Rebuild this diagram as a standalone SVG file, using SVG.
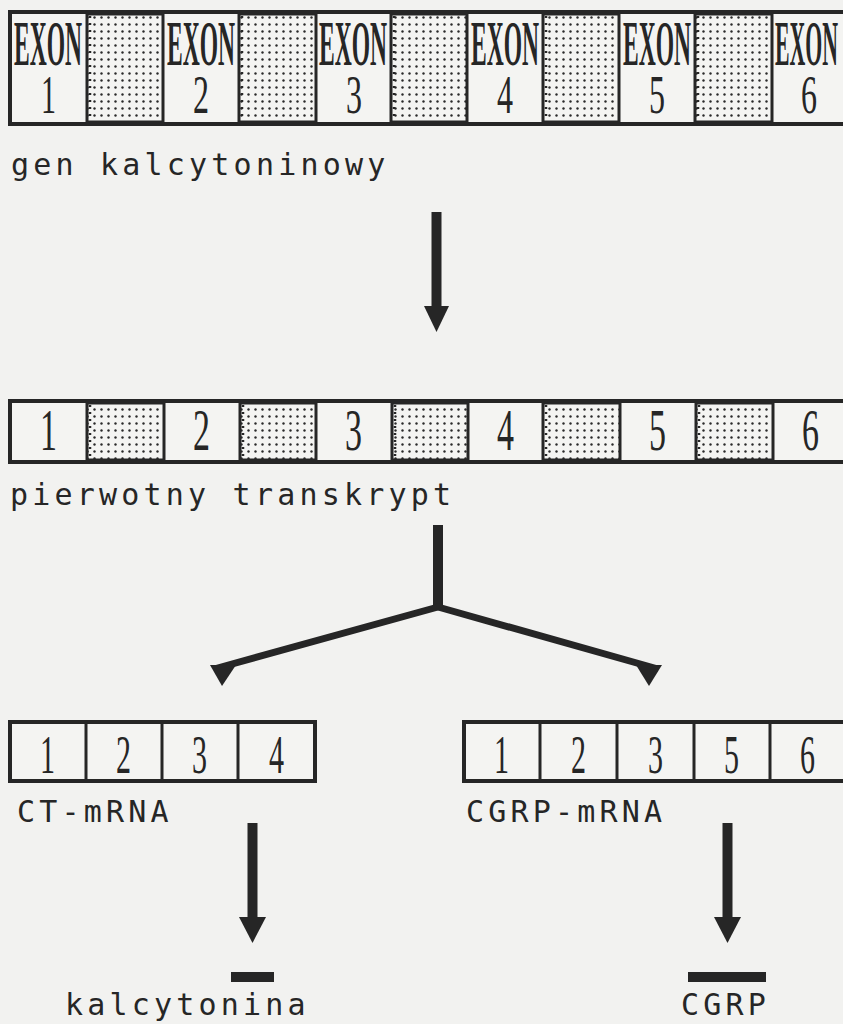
<svg xmlns="http://www.w3.org/2000/svg" width="843" height="1024" viewBox="0 0 843 1024">
<defs>
<pattern id="dots" width="7" height="7" patternUnits="userSpaceOnUse">
<rect width="7" height="7" fill="#f4f4f2"/>
<circle cx="3.5" cy="3.5" r="1.2" fill="#2a2a2a"/>
</pattern>
<style>
.box{fill:#f4f4f2;stroke:#262626;stroke-width:4}
.div{stroke:#262626;stroke-width:3}
.intr{fill:url(#dots);stroke:#262626;stroke-width:3}
.tick{stroke:#262626;stroke-width:2.5;stroke-dasharray:2 5}
.exon{font-family:"Liberation Serif",serif;font-weight:bold;font-size:64px;fill:#262626}
.dig{font-family:"Liberation Serif",serif;font-size:54px;fill:#262626}
.dig2{font-family:"Liberation Serif",serif;font-size:60px;fill:#262626}
.lbl{font-family:"DejaVu Sans Mono",monospace;font-size:30px;letter-spacing:4.2px;fill:#262626}
.shaft{stroke:#262626;stroke-width:10;fill:none}
.branch{stroke:#262626;stroke-width:7;fill:none;stroke-linejoin:round}
.head{fill:#262626}
</style>
</defs>
<rect width="843" height="1024" fill="#f2f2f0"/>

<g id="gene">
<rect class="box" x="10" y="12" width="845" height="112"/>
<rect class="intr" x="87" y="14" width="76" height="108"/>
<rect class="intr" x="239" y="14" width="77" height="108"/>
<rect class="intr" x="391" y="14" width="76" height="108"/>
<rect class="intr" x="543" y="14" width="76" height="108"/>
<rect class="intr" x="695" y="14" width="77" height="108"/>
<line class="tick" x1="90" y1="16" x2="90" y2="120"/>
<line class="tick" x1="242" y1="16" x2="242" y2="120"/>
<line class="tick" x1="394" y1="16" x2="394" y2="120"/>
<line class="tick" x1="546" y1="16" x2="546" y2="120"/>
<line class="tick" x1="698" y1="16" x2="698" y2="120"/>
<text class="exon" x="14" y="65" textLength="68" lengthAdjust="spacingAndGlyphs">EXON</text>
<text class="exon" x="167" y="65" textLength="68" lengthAdjust="spacingAndGlyphs">EXON</text>
<text class="exon" x="319" y="65" textLength="68" lengthAdjust="spacingAndGlyphs">EXON</text>
<text class="exon" x="471" y="65" textLength="68" lengthAdjust="spacingAndGlyphs">EXON</text>
<text class="exon" x="623" y="65" textLength="68" lengthAdjust="spacingAndGlyphs">EXON</text>
<text class="exon" x="775" y="65" textLength="63" lengthAdjust="spacingAndGlyphs">EXON</text>
<text class="dig" x="41" y="113" textLength="15" lengthAdjust="spacingAndGlyphs">1</text>
<text class="dig" x="193" y="113" textLength="16" lengthAdjust="spacingAndGlyphs">2</text>
<text class="dig" x="346" y="113" textLength="16" lengthAdjust="spacingAndGlyphs">3</text>
<text class="dig" x="497" y="113" textLength="16" lengthAdjust="spacingAndGlyphs">4</text>
<text class="dig" x="649" y="113" textLength="16" lengthAdjust="spacingAndGlyphs">5</text>
<text class="dig" x="801" y="113" textLength="16" lengthAdjust="spacingAndGlyphs">6</text>
</g>
<text id="label-gene" class="lbl" x="11" y="175">gen kalcytoninowy</text>

<g id="transcript">
<rect class="box" x="10" y="401" width="845" height="61"/>
<rect class="intr" x="87" y="403" width="77" height="57"/>
<rect class="intr" x="240" y="403" width="76" height="57"/>
<rect class="intr" x="392" y="403" width="76" height="57"/>
<rect class="intr" x="543" y="403" width="77" height="57"/>
<rect class="intr" x="696" y="403" width="77" height="57"/>
<line class="tick" x1="90" y1="405" x2="90" y2="459"/>
<line class="tick" x1="243" y1="405" x2="243" y2="459"/>
<line class="tick" x1="395" y1="405" x2="395" y2="459"/>
<line class="tick" x1="546" y1="405" x2="546" y2="459"/>
<line class="tick" x1="699" y1="405" x2="699" y2="459"/>
<text class="dig2" x="40" y="450" textLength="17" lengthAdjust="spacingAndGlyphs">1</text>
<text class="dig2" x="193" y="450" textLength="17" lengthAdjust="spacingAndGlyphs">2</text>
<text class="dig2" x="345" y="450" textLength="17" lengthAdjust="spacingAndGlyphs">3</text>
<text class="dig2" x="497" y="450" textLength="17" lengthAdjust="spacingAndGlyphs">4</text>
<text class="dig2" x="649" y="450" textLength="17" lengthAdjust="spacingAndGlyphs">5</text>
<text class="dig2" x="802" y="450" textLength="17" lengthAdjust="spacingAndGlyphs">6</text>
</g>
<text id="label-transcript" class="lbl" x="10" y="505">pierwotny transkrypt</text>

<g id="ct-mrna">
<rect class="box" x="10" y="722" width="305" height="59"/>
<line class="div" x1="86" y1="722" x2="86" y2="781"/>
<line class="div" x1="162" y1="722" x2="162" y2="781"/>
<line class="div" x1="238" y1="722" x2="238" y2="781"/>
<text class="dig" x="40" y="773" textLength="15" lengthAdjust="spacingAndGlyphs">1</text>
<text class="dig" x="116" y="773" textLength="15" lengthAdjust="spacingAndGlyphs">2</text>
<text class="dig" x="192" y="773" textLength="15" lengthAdjust="spacingAndGlyphs">3</text>
<text class="dig" x="269" y="773" textLength="15" lengthAdjust="spacingAndGlyphs">4</text>
</g>
<text id="label-ct" class="lbl" x="17" y="822">CT-mRNA</text>

<g id="cgrp-mrna">
<rect class="box" x="464" y="722" width="391" height="59"/>
<line class="div" x1="540" y1="722" x2="540" y2="781"/>
<line class="div" x1="617" y1="722" x2="617" y2="781"/>
<line class="div" x1="694" y1="722" x2="694" y2="781"/>
<line class="div" x1="770" y1="722" x2="770" y2="781"/>
<text class="dig" x="494" y="773" textLength="15" lengthAdjust="spacingAndGlyphs">1</text>
<text class="dig" x="571" y="773" textLength="15" lengthAdjust="spacingAndGlyphs">2</text>
<text class="dig" x="648" y="773" textLength="15" lengthAdjust="spacingAndGlyphs">3</text>
<text class="dig" x="724" y="773" textLength="15" lengthAdjust="spacingAndGlyphs">5</text>
<text class="dig" x="800" y="773" textLength="15" lengthAdjust="spacingAndGlyphs">6</text>
</g>
<text id="label-cgrp-mrna" class="lbl" x="466" y="822">CGRP-mRNA</text>

<g id="kalcytonina">
<rect x="231" y="972" width="43" height="10" fill="#262626"/>
<text class="lbl" x="65" y="1015">kalcytonina</text>
</g>
<g id="cgrp">
<rect x="688" y="972" width="78" height="10" fill="#262626"/>
<text class="lbl" x="681" y="1015">CGRP</text>
</g>

<g id="connectors">
<line class="shaft" x1="436.5" y1="212" x2="436.5" y2="309"/>
<polygon class="head" points="424,306 449,306 436.5,332"/>
<line class="shaft" x1="438" y1="525" x2="438" y2="610"/>
<polyline class="branch" points="214,669 438,607 658,669"/>
<polygon class="head" points="210,665 236,665 222,686"/>
<polygon class="head" points="636,665 662,665 649,686"/>
<line class="shaft" x1="252.5" y1="823" x2="252.5" y2="920"/>
<polygon class="head" points="239,917 266,917 252.5,943"/>
<line class="shaft" x1="727.5" y1="823" x2="727.5" y2="920"/>
<polygon class="head" points="714,917 741,917 727.5,943"/>
</g>
</svg>
